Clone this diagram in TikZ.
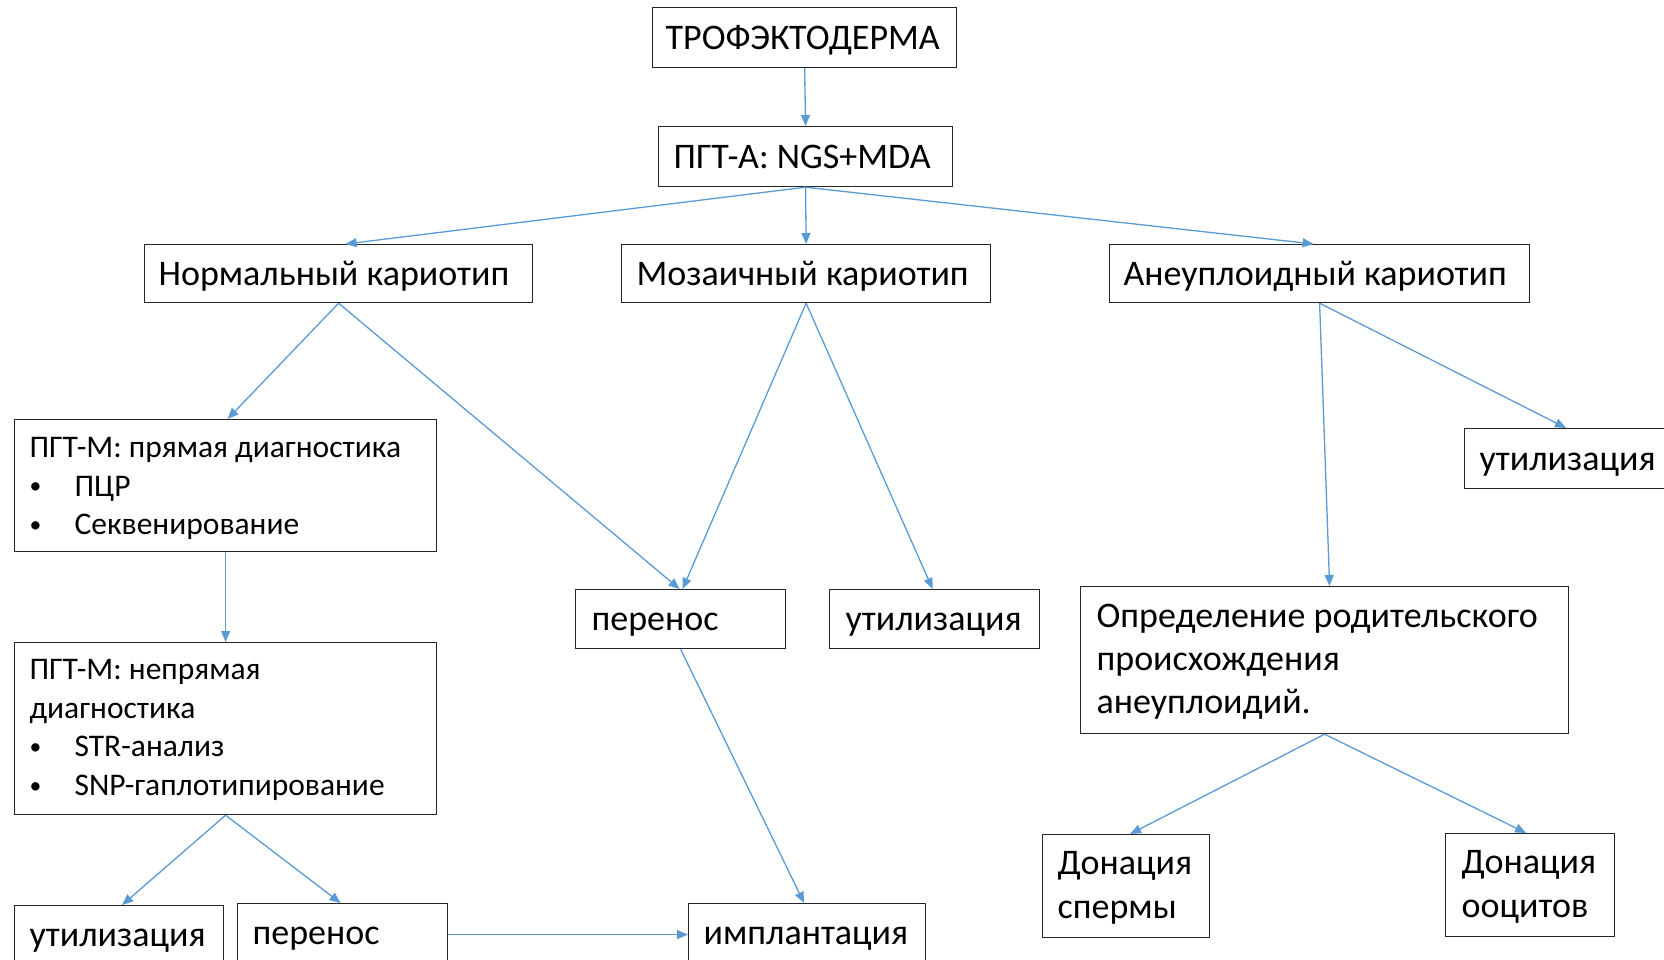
\documentclass[tikz,border=0pt]{standalone}
\usepackage{fontspec}
\setmainfont{Carlito}
\usetikzlibrary{arrows.meta,calc}
\definecolor{arr}{HTML}{5B9BD5}
\newcommand\bul{\makebox[45pt][l]{\hspace{0pt}\raisebox{2.5pt}{\scalebox{0.75}{•}}}}
\newcommand\tl[1]{\rule{0pt}{#1pt}}
\newcommand\bl[1]{\rule[-#1pt]{0pt}{0pt}}
\begin{document}
\begin{tikzpicture}[x=1pt,y=-1pt,
  box/.style={draw=black!85, line width=1.2pt, anchor=north west, inner xsep=15pt, inner ysep=0pt, align=flush left, font=\fontsize{36}{43.3}\selectfont},
  one/.style={box, text height=27pt, text depth=4pt},
  sbox/.style={box, font=\fontsize{31.5}{38.7}\selectfont},
  link/.style={draw=arr, line width=1.3pt, -{Triangle[length=11pt,width=9pt]}}
]
\useasboundingbox (0,0) rectangle (1664,960);
\fill[white] (0,0) rectangle (1664,960);

\node[one, text width=278pt, minimum height=60pt, inner xsep=13pt] (tro) at (652,7) {ТРОФЭКТОДЕРМА};
\node[one, text width=264pt, minimum height=60pt] (pgta) at (658,126) {ПГТ-А: NGS+MDA};
\node[one, text width=360pt, minimum height=58pt, inner xsep=14pt] (norm) at (144,244) {Нормальный кариотип};
\node[one, text width=339pt, minimum height=58pt] (mos) at (621,244) {Мозаичный кариотип};
\node[one, text width=392pt, minimum height=58pt, inner xsep=14pt] (aneu) at (1109,244) {Анеуплоидный кариотип};

\node[sbox, text width=392pt, minimum height=132pt] (pgtm1) at (14,419) {\tl{28}ПГТ-М: прямая диагностика\\\bul ПЦР\\\bul Секвенирование\bl{7}};
\node[sbox, text width=392pt, minimum height=172pt] (pgtm2) at (14,642) {\tl{26}ПГТ-М: непрямая\\диагностика\\\bul STR-анализ\\\bul SNP-гаплотипирование\bl{8}};

\node[one, text width=179pt, minimum height=58pt] (util1) at (14,905) {утилизация};
\node[one, text width=180pt, minimum height=58pt] (trans2) at (237,903) {перенос};
\node[one, text width=207pt, minimum height=58pt] (impl) at (688,903) {имплантация};

\node[one, text width=178pt, minimum height=59pt, inner xsep=16pt] (trans1) at (575,589) {перенос};
\node[one, text width=178pt, minimum height=59pt, inner xsep=16pt] (util2) at (829,589) {утилизация};
\node[one, text width=190pt, minimum height=60pt] (util3) at (1464,428) {утилизация};

\node[box, text width=456pt, minimum height=147pt, inner xsep=16pt] (orig) at (1080,586) {\tl{29}Определение родительского\\происхождения\\анеуплоидий.\bl{8}};
\node[box, text width=137pt, minimum height=103pt] (spd) at (1042,834) {\tl{29}Донация\\спермы\bl{8}};
\node[box, text width=137pt, minimum height=103pt, inner xsep=16pt] (ood) at (1445,833) {\tl{29}Донация\\ооцитов\bl{8}};

\draw[link] (tro.south) -- (pgta.north);
\draw[link] (pgta.south) -- ([xshift=7pt]norm.north);
\draw[link] (pgta.south) -- (mos.north);
\draw[link] (pgta.south) -- ([xshift=-6pt]aneu.north);
\draw[link] (norm.south) -- ([xshift=2pt]pgtm1.north);
\draw[link] (norm.south) -- ([xshift=-1pt]trans1.north);
\draw[link] (mos.south) -- ([xshift=2pt]trans1.north);
\draw[link] (mos.south) -- ([xshift=-2pt]util2.north);
\draw[link] (aneu.south) -- ([xshift=5pt]orig.north);
\draw[link] (aneu.south) -- ([xshift=102pt]util3.north west);
\draw[link] (pgtm1.south) -- (pgtm2.north);
\draw[link] (pgtm2.south) -- ([xshift=3pt]util1.north);
\draw[link] (pgtm2.south) -- ([xshift=-2pt]trans2.north);
\draw[link] ([yshift=-2pt]trans2.east) -- ([yshift=-2pt]impl.west);
\draw[link] (trans1.south) -- ([xshift=-3pt]impl.north);
\draw[link] (orig.south) -- ([xshift=4pt]spd.north);
\draw[link] (orig.south) -- ([xshift=-4pt]ood.north);
\end{tikzpicture}
\end{document}
